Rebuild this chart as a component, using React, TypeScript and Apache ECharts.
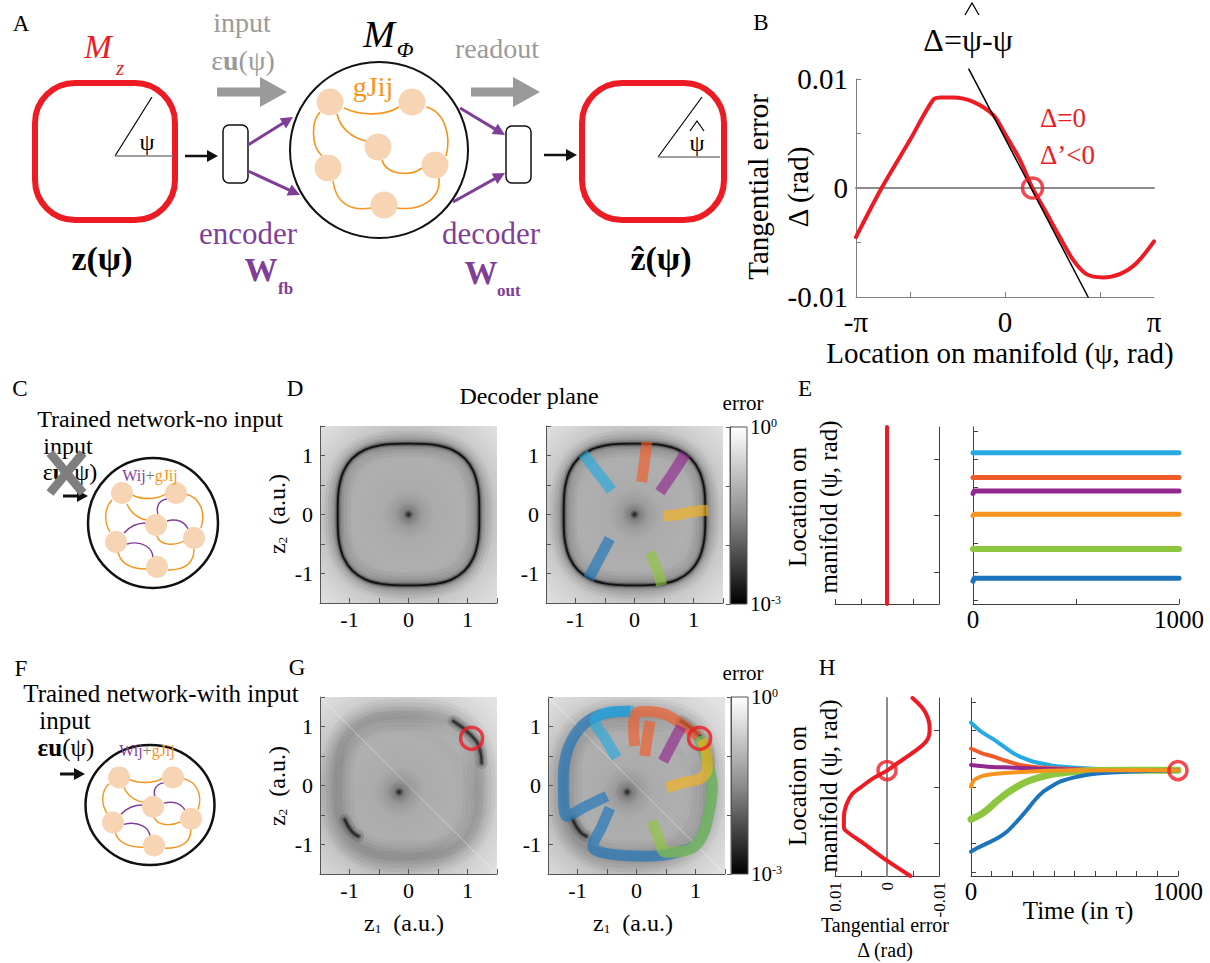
import React, { useEffect, useRef } from 'react';
import * as echarts from 'echarts';

const FONT = 'Liberation Serif';
const RED = '#ED1C24';
const PURPLE = '#7F3F98';
const ORANGE = '#F7941D';
const PEACH = '#F6D4B4';
const GREY_TXT = '#9A9A9A';
const AX = '#404040';

const C_CYAN = '#27AAE1';
const C_RED = '#F15A29';
const C_PURPLE = '#92278F';
const C_ORANGE = '#F7941E';
const C_GREEN = '#8DC63F';
const C_BLUE = '#1C75BC';

const PI = Math.PI;

// ---- Panel B (and H left): tangential error vs location on manifold
const psiB = [-3.1416, -2.601, -2.004, -1.513, -1.339, -1.093, -0.67, -0.249, -0.004, 0.312, 0.579, 0.874, 1.155, 1.436, 1.716, 2.067, 2.418, 2.77, 3.1416];
const deltaB = [-0.0045, 0.0, 0.0044, 0.0081, 0.0083, 0.0083, 0.0079, 0.0067, 0.005, 0.0026, 0.0, -0.0023, -0.0045, -0.0066, -0.0079, -0.0082, -0.0079, -0.0069, -0.0049];
const tangentPsi = [-0.762, 1.752];
const tangentDelta = [0.0109, -0.01];
const psiStar = 0.58;
const bXTicks = [-2, 0, 2];
const bXLabels = [-PI, 0, PI];
const bYLabels = [-0.01, 0, 0.01];

// ---- Decoder plane (D, G): trained manifold
const manifoldZ1 = [1.2, 1.197, 1.173, 1.099, 0.952, 0.735, 0.486, 0.238, 0, -0.238, -0.486, -0.735, -0.952, -1.099, -1.173, -1.197, -1.2, -1.197, -1.173, -1.099, -0.952, -0.735, -0.486, -0.238, 0, 0.238, 0.486, 0.735, 0.952, 1.099, 1.173, 1.197, 1.2];
const manifoldZ2 = [0, 0.238, 0.486, 0.735, 0.952, 1.099, 1.173, 1.197, 1.2, 1.197, 1.173, 1.099, 0.952, 0.735, 0.486, 0.238, 0, -0.238, -0.486, -0.735, -0.952, -1.099, -1.173, -1.197, -1.2, -1.197, -1.173, -1.099, -0.952, -0.735, -0.486, -0.238, 0];
const centerD = [0, 0];
const centerG = [-0.16, -0.11];
const fixedG = [1.07, 0.8];
const gDarkUpper = [[0.76, 1.09], [1.07, 0.84], [1.21, 0.61], [1.24, 0.38]];
const gDarkLower = [[-1.08, -0.58], [-0.96, -0.78], [-0.85, -0.86]];
const gDiagonal = [[-1.5, 1.5], [1.5, -1.5]];
const zLabels = [-1, 0, 1];

// D trajectories (no input)
const cyanD = [[-0.39, 0.41], [-0.63, 0.72], [-0.87, 1.03]];
const redD = [[0.12, 0.55], [0.17, 0.9], [0.21, 1.23]];
const purpleD = [[0.43, 0.38], [0.65, 0.7], [0.86, 1.03]];
const orangeD = [[0.49, -0.02], [0.76, 0.0], [1.0, 0.05], [1.25, 0.07]];
const blueD = [[-0.42, -0.41], [-0.6, -0.75], [-0.78, -1.09]];
const greenD = [[0.26, -0.64], [0.38, -0.92], [0.46, -1.2]];

// G trajectories (with input)
const cyanG = [[-0.34, 0.47], [-0.52, 0.78], [-0.7, 1.09], [-0.56, 1.22], [-0.3, 1.26], [-0.05, 1.26]];
const redG = [[-0.03, 0.67], [-0.05, 1.0], [-0.02, 1.2], [0.11, 1.26], [0.45, 1.22], [0.79, 1.02], [1.05, 0.83]];
const redStartG = [[0.14, 0.5], [0.18, 0.8], [0.23, 1.09]];
const purpleG = [[0.45, 0.41], [0.6, 0.7], [0.76, 1.0]];
const orangeG = [[0.51, -0.04], [0.8, 0.05], [1.1, 0.13], [1.2, 0.3], [1.19, 0.55], [1.1, 0.78]];
const greenG = [[0.26, -0.6], [0.36, -0.85], [0.5, -1.13], [0.75, -1.12], [1.05, -0.96], [1.24, -0.4], [1.28, -0.02], [1.19, 0.44], [1.05, 0.83]];
const blueG = [[-0.45, -0.38], [-0.6, -0.72], [-0.74, -1.03], [-0.4, -1.17], [0.17, -1.2], [0.73, -1.12], [1.05, -0.96], [1.24, -0.4], [1.28, -0.02], [1.19, 0.44], [1.05, 0.83]];
const blueLeftG = [[-0.5, -0.18], [-0.85, -0.35], [-1.18, -0.52], [-1.24, 0.0], [-1.18, 0.56], [-0.96, 0.97], [-0.62, 1.2], [-0.11, 1.26]];

// E: location over time, no input
const cyanE = [[0, 2.23], [1000, 2.23]];
const redE = [[0, 1.35], [1000, 1.35]];
const purpleE = [[0, 0.78], [6, 0.87], [1000, 0.87]];
const orangeE = [[0, 0.0], [6, 0.04], [1000, 0.04]];
const greenE = [[0, -1.19], [1000, -1.19]];
const blueE = [[0, -2.33], [6, -2.23], [1000, -2.23]];
const deltaNoInput = [[0, -PI], [0, PI]];

// H: location over time, with input
const cyanH = [[0, 2.27], [50, 1.95], [109, 1.68], [160, 1.42], [205, 1.19], [260, 1.0], [302, 0.89], [370, 0.79], [430, 0.72], [590, 0.64], [750, 0.61], [1000, 0.59]];
const redH = [[0, 1.36], [50, 1.2], [109, 1.07], [170, 0.92], [237, 0.78], [320, 0.7], [398, 0.66], [550, 0.62], [1000, 0.59]];
const purpleH = [[0, 0.78], [100, 0.71], [190, 0.69], [350, 0.64], [550, 0.61], [1000, 0.59]];
const orangeH = [[0, 0.01], [10, 0.2], [29, 0.31], [60, 0.4], [109, 0.46], [270, 0.54], [430, 0.58], [1000, 0.59]];
const greenH = [[0, -1.14], [40, -1.0], [77, -0.81], [125, -0.5], [173, -0.22], [220, 0.0], [270, 0.19], [330, 0.34], [398, 0.46], [500, 0.54], [590, 0.58], [1000, 0.59]];
const blueH = [[0, -2.28], [30, -2.15], [77, -1.99], [125, -1.82], [173, -1.58], [220, -1.23], [270, -0.81], [310, -0.45], [350, -0.16], [390, 0.03], [430, 0.19], [500, 0.34], [590, 0.46], [751, 0.54], [1000, 0.59]];

// ---------- helpers ----------
const T = (x, y, text, o: any = {}) => ({
  type: 'text', x, y, silent: true, rotation: o.rot || 0, z: 5,
  style: {
    text, fill: o.fill || '#000', fontSize: o.size || 23, fontFamily: o.family || FONT,
    fontWeight: o.weight || 'normal', fontStyle: o.style || 'normal',
    textAlign: o.align || 'center', textVerticalAlign: o.valign || 'middle',
    lineHeight: o.lh, rich: o.rich,
  },
});
const L = (x1, y1, x2, y2, stroke, lineWidth, z = 1) => ({ type: 'line', silent: true, z, shape: { x1, y1, x2, y2 }, style: { stroke, lineWidth } });
const PL = (points, stroke, lineWidth) => ({ type: 'polyline', silent: true, z: 6, shape: { points }, style: { stroke, lineWidth, fill: 'none' } });
const RR = (x, y, width, height, r, stroke, lineWidth) => ({ type: 'rect', silent: true, shape: { x, y, width, height, r }, style: { fill: 'none', stroke, lineWidth } });
const BZ = (p, stroke, lineWidth) => ({ type: 'bezierCurve', silent: true, shape: { x1: p[0], y1: p[1], cpx1: p[2], cpy1: p[3], cpx2: p[4], cpy2: p[5], x2: p[6], y2: p[7] }, style: { stroke, lineWidth, fill: 'none' } });
const CIR = (cx, cy, r, fill) => ({ type: 'circle', silent: true, shape: { cx, cy, r }, style: { fill } });
const ELL = (cx, cy, rx, ry, stroke, lineWidth) => ({ type: 'ellipse', silent: true, shape: { cx, cy, rx, ry }, style: { fill: 'none', stroke, lineWidth } });
function arrow(x1, y1, x2, y2, color, w, hl, hw) {
  const dx = x2 - x1, dy = y2 - y1, len = Math.hypot(dx, dy), ux = dx / len, uy = dy / len;
  const bx = x2 - ux * hl, by = y2 - uy * hl;
  return [
    L(x1, y1, bx + ux, by + uy, color, w),
    { type: 'polygon', silent: true, shape: { points: [[x2, y2], [bx - uy * hw, by + ux * hw], [bx + uy * hw, by - ux * hw]] }, style: { fill: color } },
  ];
}
function fatArrow(x1, xh, x2, y, color) {
  return { type: 'polygon', silent: true, shape: { points: [[x1, y - 4.5], [xh, y - 4.5], [xh, y - 15], [x2, y], [xh, y + 15], [xh, y + 4.5], [x1, y + 4.5]] }, style: { fill: color } };
}

// small network (panels C, F) relative to centre
const smallNodes = [[-31, -30], [23, -30], [3, 2], [-37, 19], [41, 15], [4, 44]];
const smallOrange = [
  [-21, -28, -11, -23, 5, -23, 14, -30],
  [-41, -23, -49, -15, -49, -1, -43, 9],
  [-26, -19, -23, -11, -15, -4, -6, -3],
  [32, -29, 47, -26, 53, -11, 48, 5],
  [4, 13, 7, 23, 22, 23, 31, 18],
  [-35, 29, -32, 43, -18, 46, -6, 46],
  [41, 26, 41, 42, 29, 47, 15, 47],
];
const smallPurple = [
  [14, -24, 5, -23, 3, -15, 5, -9],
  [14, -2, 24, -5, 32, -1, 35, 6],
  [-29, 10, -23, 3, -15, 0, -7, 0],
  [-26, 21, -11, 17, 0, 25, 0, 35],
];
function smallNet(cx, cy, rx, ry, sy) {
  const m = (p) => p.map((v, i) => (i % 2 === 0 ? cx + v : cy + v * sy));
  return [
    ELL(cx, cy, rx, ry, '#111', 2.5),
    ...smallOrange.map((p) => BZ(m(p), ORANGE, 1.4)),
    ...smallPurple.map((p) => BZ(m(p), PURPLE, 1.4)),
    ...smallNodes.map(([x, y]) => CIR(cx + x, cy + y * sy, 11, PEACH)),
  ];
}

// big network in A
const bigNodes = [[330, 102], [412, 102], [378, 147], [328, 168], [435, 165], [384, 205]];
const bigEdges = [
  [344, 108, 360, 116, 385, 116, 399, 107],
  [320, 112, 311, 122, 311, 146, 322, 156],
  [337, 114, 340, 128, 352, 138, 366, 141],
  [426, 107, 446, 112, 451, 138, 446, 156],
  [382, 160, 386, 175, 410, 177, 422, 168],
  [333, 181, 336, 205, 352, 211, 371, 208],
  [439, 178, 441, 200, 420, 211, 397, 208],
];

export default function App() {
  const ref = useRef(null);
  useEffect(() => {
    document.body.style.margin = '0';
    const chart = echarts.init(ref.current, null, { renderer: 'svg' });

    const heatBg = (cx, cy) => new echarts.graphic.RadialGradient(cx, cy, 0.72, [
      { offset: 0, color: '#8e8e8e' },
      { offset: 0.042, color: '#9c9c9c' },
      { offset: 0.111, color: '#a5a5a5' },
      { offset: 0.208, color: '#ababab' },
      { offset: 0.417, color: '#afafaf' },
      { offset: 0.528, color: '#ababab' },
      { offset: 0.625, color: '#b8b8b8' },
      { offset: 0.694, color: '#c6c6c6' },
      { offset: 0.833, color: '#d5d5d5' },
      { offset: 1, color: '#e2e2e2' },
    ]);
    const cbBg = () => new echarts.graphic.LinearGradient(0, 0, 0, 1, [
      { offset: 0, color: '#ffffff' },
      { offset: 0.5, color: '#8c8c8c' },
      { offset: 1, color: '#000000' },
    ]);
    const plain = (left, top, width, height) => ({ left, top, width, height, containLabel: false });
    const heat = (left, top, cx, cy) => ({ left, top, width: 177, height: 177, show: true, borderWidth: 0, backgroundColor: heatBg(cx, cy) });
    const cbar = (left, top) => ({ left, top, width: 17, height: 177, show: true, borderWidth: 1, borderColor: '#555', backgroundColor: cbBg() });

    const grid = [
      plain(856, 79, 298, 218), // 0 B
      heat(320, 426, 0.5, 0.5), // 1 D left
      heat(546, 426, 0.5, 0.5), // 2 D right
      cbar(730, 427), // 3 D colorbar
      plain(835, 427, 104, 177), // 4 E left
      plain(973, 427, 206, 177), // 5 E right
      heat(320, 697, 0.45, 0.54), // 6 G left
      heat(548, 697, 0.45, 0.54), // 7 G right
      cbar(731, 697), // 8 G colorbar
      plain(835, 698, 104, 178), // 9 H left
      plain(971, 698, 207, 178), // 10 H right
    ];

    const ax = (o) => ({
      gridIndex: o.g, type: 'value', min: o.min, max: o.max, interval: o.interval, inverse: !!o.inverse, position: o.position,
      axisLine: { show: true, onZero: false, lineStyle: { color: o.color || AX, width: 1 } },
      axisTick: { show: true, inside: true, length: 5, customValues: o.tickValues, lineStyle: { color: o.color || AX, width: 1 } },
      splitLine: { show: false },
      axisLabel: { show: o.showLabel !== false, customValues: o.labelValues, formatter: o.formatter, color: '#000', fontFamily: FONT, fontSize: o.fontSize || 21, margin: o.margin ?? 6, rotate: o.rotate || 0 },
    });
    const fmtInt = (v) => String(Math.round(v));
    const zAx = (g, margin) => ax({ g, min: -1.5, max: 1.5, interval: 0.5, color: '#555', labelValues: zLabels, formatter: fmtInt, fontSize: 22, margin });
    const cbX = (g) => ({ gridIndex: g, type: 'value', show: false, min: 0, max: 1 });
    const cbY = (g) => ({
      gridIndex: g, type: 'log', logBase: 10, min: 0.001, max: 1, position: 'right',
      axisLine: { show: true, lineStyle: { color: '#555' } },
      axisTick: { show: true, inside: true, length: 4, lineStyle: { color: '#555' } },
      splitLine: { show: false },
      axisLabel: {
        show: true, margin: 3, color: '#000', fontFamily: FONT, fontSize: 21,
        formatter: (v) => (v > 0.5 ? '10{sup|0}' : v < 0.002 ? '10{sup|-3}' : ''),
        rich: { sup: { fontSize: 12, fontFamily: FONT, verticalAlign: 'top', color: '#000' } },
      },
    });
    const psiTicksE = [-3, -2, -1, 0, 1, 2, 3];
    const deltaFmt = (v) => (Math.abs(v) < 1e-9 ? '0' : v > 0 ? '0.01' : '-0.01');

    const xAxis = [
      ax({ g: 0, min: -PI, max: PI, color: '#808080', tickValues: bXTicks, labelValues: bXLabels, formatter: (v) => (v < -1 ? '-π' : v > 1 ? 'π' : '0'), fontSize: 29, margin: 10 }),
      zAx(1, 5), zAx(2, 5), cbX(3),
      ax({ g: 4, min: -0.01, max: 0.01, interval: 0.005, inverse: true, showLabel: false }),
      ax({ g: 5, min: 0, max: 1000, interval: 500, labelValues: [0, 1000], formatter: (v) => String(v), fontSize: 25, margin: 3 }),
      zAx(6, 5), zAx(7, 5), cbX(8),
      ax({ g: 9, min: -0.01, max: 0.01, interval: 0.005, inverse: true, labelValues: bYLabels, formatter: deltaFmt, rotate: 90, fontSize: 17, margin: 6 }),
      ax({ g: 10, min: 0, max: 1000, interval: 100, labelValues: [0, 1000], formatter: (v) => String(v), fontSize: 25, margin: 3 }),
    ];
    const yAxis = [
      ax({ g: 0, min: -0.01, max: 0.01, interval: 0.005, color: '#808080', labelValues: bYLabels, formatter: deltaFmt, fontSize: 29, margin: 8 }),
      zAx(1, 7), zAx(2, 7), cbY(3),
      ax({ g: 4, min: -PI, max: PI, position: 'right', tickValues: [-2, 0, 2], showLabel: false }),
      ax({ g: 5, min: -PI, max: PI, tickValues: psiTicksE, showLabel: false }),
      zAx(6, 7), zAx(7, 7), cbY(8),
      ax({ g: 9, min: -PI, max: PI, position: 'right', tickValues: [-2, 0, 2], showLabel: false }),
      ax({ g: 10, min: -PI, max: PI, tickValues: psiTicksE, showLabel: false }),
    ];

    const line = (i, data, color, width, extra: any = {}) => ({
      type: 'line', xAxisIndex: i, yAxisIndex: i, data, symbol: 'none', silent: true,
      lineStyle: { color, width, cap: 'round', join: 'round', opacity: extra.opacity ?? 1 },
      smooth: extra.smooth ?? false, clip: extra.clip ?? true, z: extra.z ?? 2,
    });
    const manifold = manifoldZ1.map((x, i) => [x, manifoldZ2[i]]);
    const ringD = (i) => [
      line(i, manifold, 'rgba(0,0,0,0.035)', 26, { smooth: 0.3 }),
      line(i, manifold, 'rgba(0,0,0,0.045)', 19, { smooth: 0.3 }),
      line(i, manifold, 'rgba(0,0,0,0.07)', 12, { smooth: 0.3 }),
      line(i, manifold, 'rgba(0,0,0,0.14)', 7, { smooth: 0.3 }),
      line(i, manifold, 'rgba(0,0,0,0.3)', 4, { smooth: 0.3 }),
      line(i, manifold, '#111', 1.8, { smooth: 0.3 }),
    ];
    const ringG = (i) => [
      line(i, manifold, 'rgba(0,0,0,0.03)', 32, { smooth: 0.3 }),
      line(i, manifold, 'rgba(0,0,0,0.035)', 24, { smooth: 0.3 }),
      line(i, manifold, 'rgba(0,0,0,0.04)', 16, { smooth: 0.3 }),
      line(i, manifold, 'rgba(0,0,0,0.05)', 9, { smooth: 0.3 }),
      line(i, gDarkUpper, 'rgba(0,0,0,0.12)', 12, { smooth: 0.5 }),
      line(i, gDarkUpper, 'rgba(0,0,0,0.25)', 6, { smooth: 0.5 }),
      line(i, gDarkUpper, 'rgba(0,0,0,0.55)', 2.5, { smooth: 0.5 }),
      line(i, gDarkLower, 'rgba(0,0,0,0.12)', 12, { smooth: 0.5 }),
      line(i, gDarkLower, 'rgba(0,0,0,0.25)', 6, { smooth: 0.5 }),
      line(i, gDarkLower, 'rgba(0,0,0,0.6)', 2.5, { smooth: 0.5 }),
      line(i, gDiagonal, 'rgba(255,255,255,0.4)', 1),
    ];
    const dot = (i, c) => ({
      type: 'scatter', xAxisIndex: i, yAxisIndex: i, data: [c], symbol: 'circle', symbolSize: 50, silent: true,
      itemStyle: {
        color: new echarts.graphic.RadialGradient(0.5, 0.5, 0.5, [
          { offset: 0, color: 'rgba(0,0,0,1)' },
          { offset: 0.06, color: 'rgba(0,0,0,0.75)' },
          { offset: 0.18, color: 'rgba(0,0,0,0.25)' },
          { offset: 0.5, color: 'rgba(0,0,0,0.07)' },
          { offset: 1, color: 'rgba(0,0,0,0)' },
        ]),
      },
    });
    const redCircle = (i, pt, size) => ({
      type: 'scatter', xAxisIndex: i, yAxisIndex: i, data: [pt], symbol: 'circle', symbolSize: size, clip: false, silent: true, z: 10,
      itemStyle: { color: 'rgba(0,0,0,0)', borderColor: RED, borderWidth: 3.5 },
    });
    const band = (i, data, color) => ({
      type: 'line', xAxisIndex: i, yAxisIndex: i, data, symbol: 'none', silent: true, smooth: 0.4, z: 3,
      lineStyle: { color, width: 11, opacity: 0.65, cap: 'butt', join: 'round' },
    });

    const series = [
      // B
      line(0, [[-PI, 0], [PI, 0]], '#8c8c8c', 2),
      line(0, psiB.map((p, i) => [p, deltaB[i]]), RED, 4, { smooth: 0.3 }),
      line(0, [[tangentPsi[0], tangentDelta[0]], [tangentPsi[1], tangentDelta[1]]], '#000', 1.5, { clip: false, z: 4 }),
      redCircle(0, [psiStar, 0], 20),
      // D left
      ...ringD(1), dot(1, centerD),
      // D right
      ...ringD(2), dot(2, centerD),
      band(2, cyanD, C_CYAN), band(2, redD, C_RED), band(2, purpleD, C_PURPLE),
      band(2, orangeD, '#F6B21B'), band(2, blueD, C_BLUE), band(2, greenD, C_GREEN),
      // E left
      line(4, deltaNoInput, RED, 4),
      // E right
      line(5, cyanE, C_CYAN, 5), line(5, redE, C_RED, 5), line(5, purpleE, C_PURPLE, 5),
      line(5, orangeE, C_ORANGE, 5), line(5, greenE, C_GREEN, 6), line(5, blueE, C_BLUE, 5),
      // G left
      ...ringG(6), dot(6, centerG), redCircle(6, fixedG, 22),
      // G right
      ...ringG(7), dot(7, centerG),
      band(7, blueG, C_BLUE), band(7, blueLeftG, C_BLUE), band(7, greenG, C_GREEN),
      band(7, orangeG, '#F6B21B'), band(7, cyanG, C_CYAN), band(7, redStartG, C_RED),
      band(7, redG, C_RED), band(7, purpleG, C_PURPLE),
      redCircle(7, fixedG, 22),
      // H left
      line(9, [[0, -PI], [0, PI]], '#8c8c8c', 2),
      line(9, psiB.map((p, i) => [deltaB[i], p]), RED, 4, { smooth: 0.3 }),
      redCircle(9, [0, psiStar], 18),
      // H right
      line(10, cyanH, C_CYAN, 4, { smooth: 0.3 }), line(10, redH, C_RED, 4, { smooth: 0.3 }),
      line(10, purpleH, C_PURPLE, 4, { smooth: 0.3 }), line(10, greenH, C_GREEN, 7, { smooth: 0.3 }),
      line(10, blueH, C_BLUE, 4, { smooth: 0.3 }), line(10, orangeH, C_ORANGE, 4, { smooth: 0.3 }),
      redCircle(10, [1000, psiStar], 18),
    ];

    const richEU = (o) => ({
      r: { fontFamily: FONT, fontSize: o.size },
      b: { fontFamily: FONT, fontSize: o.size, fontWeight: 'bold' },
    });
    const richW = {
      p: { fontFamily: FONT, fontSize: 16, fill: PURPLE },
      g: { fontFamily: FONT, fontSize: 16, fill: '#777' },
      o: { fontFamily: FONT, fontSize: 16, fill: ORANGE },
    };
    const subRich = { sub: { fontFamily: FONT, fontSize: 13, verticalAlign: 'bottom' }, n: { fontFamily: FONT, fontSize: 24 } };

    const elements = [
      // ---- A
      T(21, 23, 'A'),
      T(98, 47, 'M', { size: 33, fill: RED, style: 'italic' }),
      T(120, 68, 'z', { size: 21, fill: RED, style: 'italic' }),
      RR(35, 83, 140, 137, 40, RED, 6),
      L(115, 156, 152, 97, '#000', 1.2),
      L(115, 156, 173, 156, '#808080', 1.5),
      T(147, 142, 'ψ', { size: 24 }),
      T(102, 258, 'z(ψ)', { size: 34, weight: 'bold' }),
      ...arrow(185, 156, 218, 156, '#111', 2.5, 11, 6),
      RR(223, 125, 25, 58, 6, '#111', 1.5),
      ...arrow(248, 145, 293, 117, PURPLE, 3, 12, 6),
      ...arrow(248, 171, 300, 195, PURPLE, 3, 12, 6),
      T(242, 22, 'input', { size: 28, fill: GREY_TXT }),
      T(243, 60, '{r|ε}{b|u}{r|(ψ)}', { size: 28, fill: GREY_TXT, rich: richEU({ size: 28 }) }),
      fatArrow(217, 260, 287, 92, '#9a9a9a'),
      ELL(379, 150, 89, 88, '#111', 2),
      T(379, 34, 'M', { size: 38, style: 'italic' }),
      T(405, 49, 'Φ', { size: 22, style: 'italic' }),
      T(373, 86, 'gJij', { size: 28, fill: ORANGE }),
      ...bigEdges.map((p) => BZ(p, ORANGE, 1.6)),
      ...bigNodes.map(([x, y]) => CIR(x, y, 13.5, PEACH)),
      fatArrow(471, 513, 540, 92, '#9a9a9a'),
      T(497, 48, 'readout', { size: 28, fill: GREY_TXT }),
      ...arrow(460, 108, 505, 135, PURPLE, 3, 12, 6),
      ...arrow(453, 202, 505, 173, PURPLE, 3, 12, 6),
      RR(506, 126, 25, 57, 6, '#111', 1.5),
      ...arrow(544, 155, 577, 155, '#111', 2.5, 11, 6),
      RR(582, 83, 142, 137, 40, RED, 6),
      L(658, 157, 702, 97, '#000', 1.2),
      L(658, 157, 720, 157, '#808080', 1.5),
      T(697, 143, 'ψ', { size: 24 }),
      PL([[690, 131], [697, 121], [704, 131]], '#000', 1.2),
      T(661, 258, 'ẑ(ψ)', { size: 34, weight: 'bold' }),
      T(248, 233, 'encoder', { size: 31, fill: PURPLE }),
      T(261, 270, 'W', { size: 33, weight: 'bold', fill: PURPLE }),
      T(278, 288, 'fb', { size: 17, weight: 'bold', fill: PURPLE, align: 'left' }),
      T(491, 233, 'decoder', { size: 31, fill: PURPLE }),
      T(481, 273, 'W', { size: 33, weight: 'bold', fill: PURPLE }),
      T(497, 290, 'out', { size: 17, weight: 'bold', fill: PURPLE, align: 'left' }),
      // ---- B
      T(761, 22, 'B'),
      T(968, 40, 'Δ=ψ-ψ', { size: 32 }),
      PL([[965, 15], [972, 3], [979, 15]], '#000', 1.3),
      T(778, 187, 'Tangential error\nΔ (rad)', { size: 29, rot: PI / 2, lh: 40 }),
      T(1000, 353, 'Location on manifold (ψ, rad)', { size: 29 }),
      T(1040, 118, 'Δ=0', { size: 27, fill: RED, align: 'left' }),
      T(1040, 155, 'Δ’<0', { size: 27, fill: RED, align: 'left' }),
      // ---- C
      T(20, 388, 'C'),
      T(160, 419, 'Trained network-no input', { size: 24 }),
      T(68, 446, 'input', { size: 24 }),
      T(70, 472, '{r|ε}{b|u}{r|(ψ)}', { size: 24, rich: richEU({ size: 24 }) }),
      L(50, 453, 83, 493, '#7f7f7f', 9, 6),
      L(83, 453, 50, 493, '#7f7f7f', 9, 6),
      ...arrow(63, 496, 88, 496, '#111', 3, 11, 6),
      ...smallNet(153, 523, 65, 65, 1),
      T(150, 475, '{p|Wij}{g|+}{o|gJij}', { size: 16, rich: richW }),
      // ---- D
      T(295, 388, 'D'),
      T(529, 396, 'Decoder plane', { size: 24 }),
      T(277, 514, '{n|z}{sub|2}{n|  (a.u.)}', { size: 24, rot: PI / 2, rich: subRich }),
      T(743, 403, 'error', { size: 21 }),
      // ---- E
      T(805, 388, 'E'),
      T(813, 507, 'Location on\nmanifold (ψ, rad)', { size: 25, rot: PI / 2, lh: 31 }),
      // ---- F
      T(21, 668, 'F'),
      T(161, 693, 'Trained network-with input', { size: 25 }),
      T(65, 720, 'input', { size: 25 }),
      T(66, 747, '{b|εu}{r|(ψ)}', { size: 25, rich: richEU({ size: 25 }) }),
      ...arrow(60, 774, 85, 774, '#111', 3, 11, 6),
      ...smallNet(150, 805, 64.5, 60, 0.92),
      T(147, 750, '{p|Wij}{g|+}{o|gJij}', { size: 16, rich: richW }),
      // ---- G
      T(297, 667, 'G'),
      T(277, 786, '{n|z}{sub|2}{n|  (a.u.)}', { size: 24, rot: PI / 2, rich: subRich }),
      T(404, 923, '{n|z}{sub|1}{n|  (a.u.)}', { size: 24, rich: subRich }),
      T(633, 923, '{n|z}{sub|1}{n|  (a.u.)}', { size: 24, rich: subRich }),
      T(743, 673, 'error', { size: 21 }),
      // ---- H
      T(827, 667, 'H'),
      T(813, 786, 'Location on\nmanifold (ψ, rad)', { size: 25, rot: PI / 2, lh: 31 }),
      T(885, 925, 'Tangential error', { size: 20 }),
      T(885, 950, 'Δ (rad)', { size: 20 }),
      T(1078, 910, 'Time (in τ)', { size: 25 }),
    ];

    chart.setOption({
      animation: false,
      backgroundColor: '#fff',
      textStyle: { fontFamily: FONT },
      grid, xAxis, yAxis, series,
      graphic: { elements },
    });
    return () => chart.dispose();
  }, []);
  return <div ref={ref} style={{ width: 1210, height: 963 }} />;
}
